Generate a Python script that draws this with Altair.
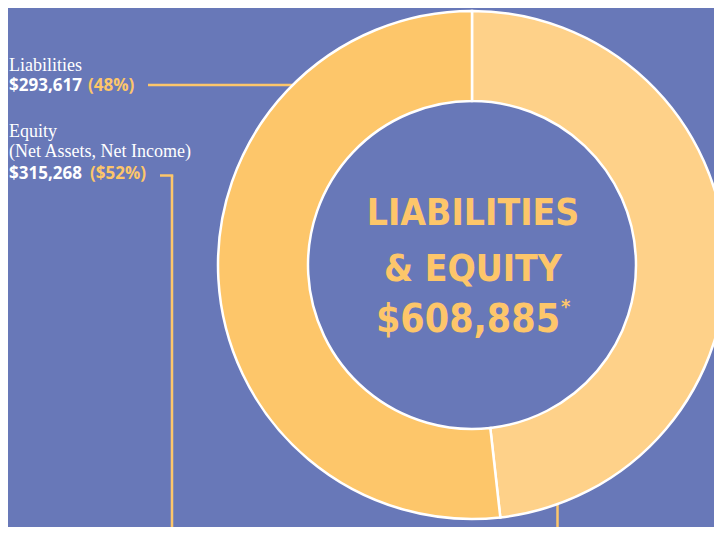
import altair as alt
import pandas as pd

# ---- data ----
categories = ["Liabilities", "Equity"]
sublabels = ["", "(Net Assets, Net Income)"]
amounts = [293617, 315268]
pct_labels = ["(48%)", "($52%)"]
total = 608885
title_lines = ["LIABILITIES", "& EQUITY"]

BG = "#6878B8"
ORANGE = "#FDC66A"
SLICE_COLORS = ["#FED189", "#FDC66A"]
SERIF = "Liberation Serif"
SANS = "Open Sans"
TITLE_FONT = "DejaVu Sans Condensed, DejaVu Sans, sans-serif"

W, H = 706, 519
CX, CY = 464, 257

one = pd.DataFrame({"d": [0]})


def txt(text, x, y, size, color, font, weight="normal", align="left", baseline="alphabetic"):
    return alt.Chart(one).mark_text(
        text=text, font=font, fontSize=size, fontWeight=weight, color=color,
        align=align, baseline=baseline,
    ).encode(x=alt.value(x), y=alt.value(y))


def rule(x, x2, y, y2):
    return alt.Chart(one).mark_rule(color=ORANGE, strokeWidth=2.5).encode(
        x=alt.value(x), x2=alt.value(x2), y=alt.value(y), y2=alt.value(y2)
    )


df = pd.DataFrame({"category": categories, "amount": amounts, "order": [0, 1]})

donut = alt.Chart(df).mark_arc(
    outerRadius=254, innerRadius=164, stroke="white", strokeWidth=2.5
).encode(
    theta=alt.Theta("amount:Q", stack=True),
    color=alt.Color("category:N", scale=alt.Scale(domain=categories, range=SLICE_COLORS), legend=None),
    order=alt.Order("order:Q"),
    x=alt.value(CX),
    y=alt.value(CY),
)

lines = [
    rule(140, 300, 77, 77),
    rule(152, 165.25, 167.5, 167.5),
    rule(164, 164, 167.5, H),
    rule(549.5, 549.5, 480, H),
]

labels = [
    txt(categories[0], 1, 63, 18, "white", SERIF),
    txt(f"${amounts[0]:,}", 1, 83, 17, "white", SANS, "bold"),
    txt(pct_labels[0], 80, 83, 17, ORANGE, SANS, "bold"),
    txt(categories[1], 1, 129, 18, "white", SERIF),
    txt(sublabels[1], 1, 149, 18, "white", SERIF),
    txt(f"${amounts[1]:,}", 1, 171, 17, "white", SANS, "bold"),
    txt(pct_labels[1], 82, 171, 17, ORANGE, SANS, "bold"),
    txt(title_lines[0], 465, 217, 37, ORANGE, TITLE_FONT, "bold", "center"),
    txt(title_lines[1], 465, 273, 37, ORANGE, TITLE_FONT, "bold", "center"),
    txt(f"${total:,}", 460, 324, 39, ORANGE, TITLE_FONT, "bold", "center"),
    txt("*", 553, 289, 20, ORANGE, TITLE_FONT, "bold", "left", "top"),
]

chart = alt.layer(*lines, donut, *labels).properties(
    width=W, height=H, padding=0,
    autosize=alt.AutoSizeParams(type="none"),
    background=BG,
).configure_view(stroke=None)

chart.save("out.html", embed_options={"renderer": "svg", "actions": False})
